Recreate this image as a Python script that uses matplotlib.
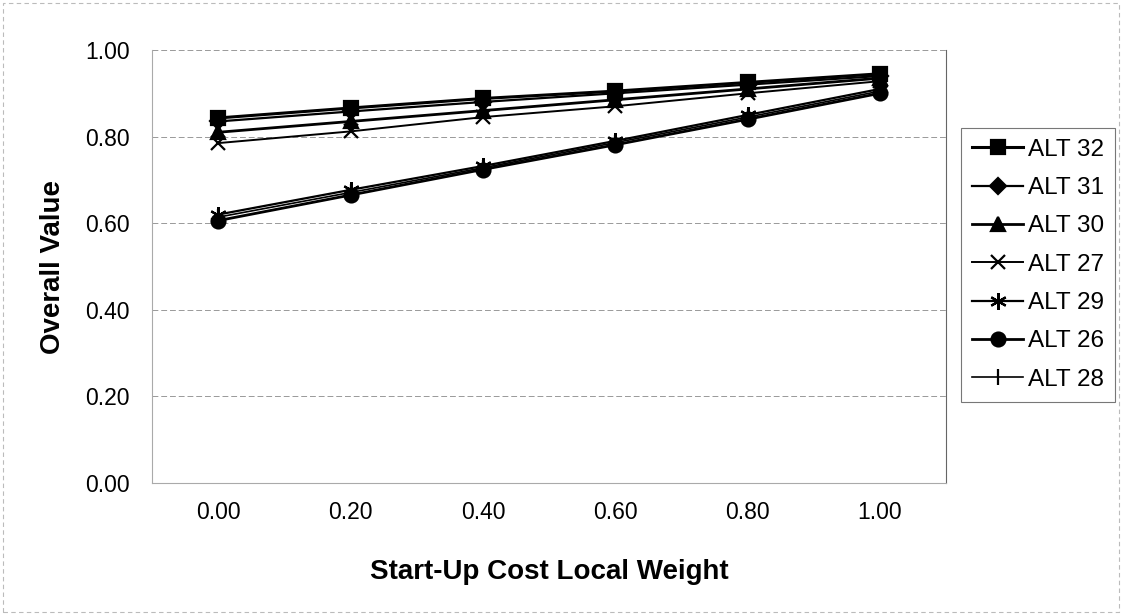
import matplotlib.pyplot as plt
from matplotlib.patches import Rectangle

plt.rcParams['font.family'] = ['Liberation Sans', 'DejaVu Sans']

weights = [0.0, 0.2, 0.4, 0.6, 0.8, 1.0]
tick_labels = ["0.00", "0.20", "0.40", "0.60", "0.80", "1.00"]

alt32 = [0.843, 0.866, 0.888, 0.905, 0.925, 0.945]
alt31 = [0.835, 0.858, 0.880, 0.900, 0.920, 0.940]
alt30 = [0.810, 0.835, 0.860, 0.885, 0.910, 0.935]
alt27 = [0.785, 0.812, 0.845, 0.870, 0.900, 0.928]
alt29 = [0.620, 0.677, 0.732, 0.790, 0.850, 0.910]
alt26 = [0.606, 0.665, 0.724, 0.781, 0.840, 0.900]
alt28 = [0.614, 0.671, 0.728, 0.786, 0.845, 0.905]

series = [
    ("ALT 32", alt32, "s", 2.2, 10),
    ("ALT 31", alt31, "D", 1.6, 8),
    ("ALT 30", alt30, "^", 2.0, 10),
    ("ALT 27", alt27, "x", 1.4, 10),
    ("ALT 29", alt29, (6, 2, 0), 1.6, 12),
    ("ALT 26", alt26, "o", 2.0, 10),
    ("ALT 28", alt28, "|", 1.2, 12),
]

fig = plt.figure(figsize=(11.22, 6.15), dpi=100)
ax = fig.add_axes([0.1355, 0.2146, 0.7077, 0.7041])

x = list(range(len(weights)))
for name, vals, mk, lw, ms in series:
    ax.plot(x, vals, color="black", marker=mk, lw=lw, ms=ms,
            markeredgewidth=1.6, label=name)

ax.set_xlim(-0.5, len(weights) - 0.5)
ax.set_ylim(0, 1.0)
ax.set_yticks([0, 0.2, 0.4, 0.6, 0.8, 1.0])
ax.set_yticklabels(["0.00", "0.20", "0.40", "0.60", "0.80", "1.00"], fontsize=16.5)
ax.set_xticks(x)
ax.set_xticklabels(tick_labels, fontsize=16.5)
ax.tick_params(axis="y", length=0, pad=16)
ax.tick_params(axis="x", length=0, pad=13)
ax.grid(axis="y", color="#999999", linestyle=(0, (6, 3)), lw=0.7)
for s in ax.spines.values():
    s.set_color("#aaaaaa")
    s.set_linewidth(0.8)
ax.spines["right"].set_color("#666666")
ax.spines["top"].set_visible(False)

ax.set_xlabel("Start-Up Cost Local Weight", fontsize=20, fontweight="bold", labelpad=25)
ax.set_ylabel("Overall Value", fontsize=20, fontweight="bold", labelpad=14)

leg = ax.legend(loc="upper left", bbox_to_anchor=(1.019, 0.82), frameon=True,
                fancybox=False, fontsize=17.5, handlelength=2.1, handletextpad=0.2,
                borderpad=0.45, labelspacing=0.67, borderaxespad=0)
leg.get_frame().set_edgecolor("#555555")
leg.get_frame().set_linewidth(0.8)

fig.patches.append(Rectangle((0.003, 0.005), 0.994, 0.99, transform=fig.transFigure,
                             fill=False, edgecolor="#bbbbbb", lw=0.8, linestyle=(0, (4, 3))))

fig.savefig("out.png", dpi=100)
